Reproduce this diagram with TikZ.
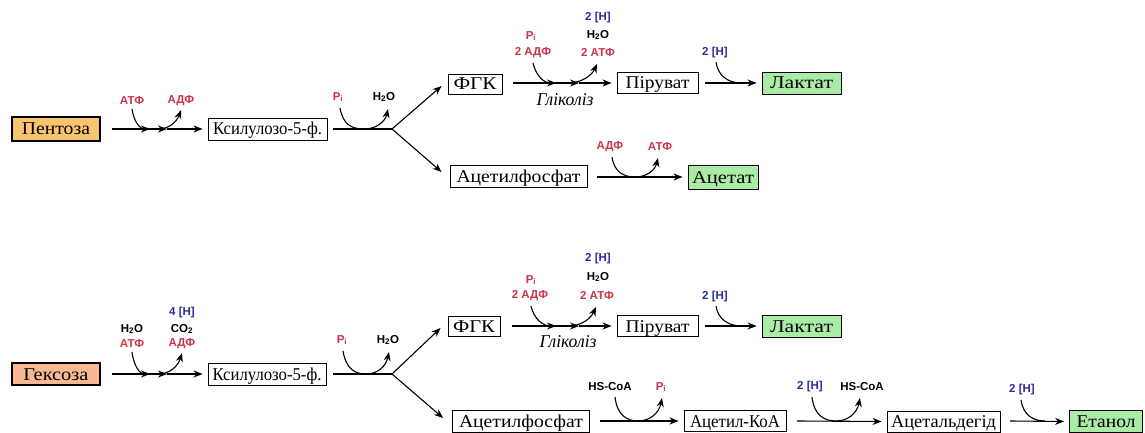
\documentclass[tikz,border=0pt]{standalone}
\usepackage{graphicx}
\usepackage{fontspec}
\setmainfont{Liberation Serif}
\newfontfamily\labfont{Liberation Sans}
\usetikzlibrary{arrows.meta,calc}
\newcommand{\fitbox}[2]{\resizebox{#1pt}{\height}{#2}}
\definecolor{rd}{HTML}{CC3349}
\definecolor{bl}{HTML}{2B2BA0}
\definecolor{orng}{HTML}{F9C46F}
\definecolor{salm}{HTML}{F7B994}
\definecolor{grn}{HTML}{AAEBA5}
\tikzset{
  box/.style={draw, line width=0.9pt, inner sep=0pt, text height=12.5pt, text depth=0.5pt,
    font=\fontsize{18}{18}\selectfont},
  startbox/.style={box, line width=1.4pt},
  endbox/.style={box, fill=grn},
  ln/.style={line width=1.1pt},
  arr/.style={line width=1.1pt, -{Stealth[length=9pt,width=7pt]}},
  toBox/.style={arr, shorten >=5pt},
  lab/.style={inner sep=0pt, font=\labfont\fontsize{11.5}{11.5}\selectfont\bfseries},
  lr/.style={lab, text=rd},
  lk/.style={lab, text=black},
  lb/.style={lab, text=bl},
  gly/.style={inner sep=0pt, font=\fontsize{18}{18}\selectfont\itshape}
}
\begin{document}
\begin{tikzpicture}[x=1pt,y=-1pt]
\useasboundingbox (0,0) rectangle (1145,433);

% ================= TOP =================
\node[startbox, fill=orng, minimum width=88pt, minimum height=24pt] (pent) at (56,129) {\fitbox{68}{Пентоза}};
\node[box, minimum width=119pt, minimum height=22pt] (xyl1) at (267.5,129) {\fitbox{109}{Ксилулозо-5-ф.}};
\node[box, minimum width=54pt, minimum height=20pt] (fgk1) at (475,84) {\fitbox{43}{ФГК}};
\node[box, minimum width=81pt, minimum height=21pt] (pir1) at (657.5,83) {\fitbox{64}{Піруват}};
\node[endbox, minimum width=79pt, minimum height=22pt] (lak1) at (801.5,83) {\fitbox{63}{Лактат}};
\node[box, minimum width=137pt, minimum height=22pt] (acp1) at (518.5,176) {\fitbox{124}{Ацетилфосфат}};
\node[endbox, minimum width=70pt, minimum height=24pt] (ace1) at (723,177) {\fitbox{62}{Ацетат}};

% pentose -> xylulose
\node[lr] (t1atf) at (132,101) {АТФ};
\node[lr] (t1adf) at (181,101) {АДФ};
\coordinate (t1s) at (112,129);
\coordinate (t1m) at (167,129);
\draw[arr] (t1s) -- (t1m);
\draw[toBox] (t1m) -- (xyl1.west);
\coordinate (t1in) at (132,109);
\coordinate (t1ine) at (150,129);
\draw[arr] (t1in) .. controls (134,122) and (140,129) .. (t1ine);
\coordinate (t1out) at (158,129);
\coordinate (t1oute) at (181,110);
\draw[arr] (t1out) .. controls (170,129) and (177,121) .. (t1oute);

% xylulose -> branch
\node[lr] (t2pi) at (338,97) {P\textsubscript{i}};
\node[lk] (t2h2o) at (384,97) {H\textsubscript{2}O};
\coordinate (t2s) at (333,129);
\coordinate (b1) at (392,129);
\draw[ln] (t2s) -- (b1);
\coordinate (t2u1) at (340,108);
\coordinate (t2u2) at (364,129);
\coordinate (t2u3) at (388,109);
\draw[ln] (t2u1) .. controls (343,125) and (352,129) .. (t2u2);
\draw[arr] (t2u2) .. controls (376,129) and (385,122) .. (t2u3);
\draw[arr] (b1) -- ($(fgk1.west)+(-6,2)$);
\draw[arr] (b1) -- ($(acp1.west)+(-8,-4)$);

% glycolysis top
\node[lr] (t3pi) at (531,36) {P\textsubscript{i}};
\node[lr] (t3adf) at (533,53) {2 АДФ};
\node[lb] (t3h) at (598,18) {2 [H]};
\node[lk] (t3h2o) at (598,35) {H\textsubscript{2}O};
\node[lr] (t3atf) at (598,53) {2 АТФ};
\node[gly] (t3gl) at (565,100) {\fitbox{57}{Гліколіз}};
\coordinate (t3s) at (513,83);
\coordinate (t3m) at (579,83);
\draw[arr] (t3s) -- (t3m);
\draw[toBox] (t3m) -- (pir1.west);
\coordinate (t3in) at (533,63);
\coordinate (t3ine) at (556,83);
\draw[arr] (t3in) .. controls (536,76) and (544,83) .. (t3ine);
\coordinate (t3out) at (568,83);
\coordinate (t3oute) at (597,64);
\draw[arr] (t3out) .. controls (582,83) and (592,75) .. (t3oute);

% pyruvate -> lactate
\node[lb] (t4h) at (715,53) {2 [H]};
\coordinate (t4s) at (705,83);
\draw[toBox] (t4s) -- (lak1.west);
\coordinate (t4in) at (716,62);
\coordinate (t4ine) at (742,83);
\draw[ln] (t4in) .. controls (718,76) and (728,83) .. (t4ine);

% acetylphosphate -> acetate
\node[lr] (t5adf) at (610,147) {АДФ};
\node[lr] (t5atf) at (660,147) {АТФ};
\coordinate (t5s) at (597,177);
\draw[toBox] (t5s) -- (ace1.west);
\coordinate (t5u1) at (612,157);
\coordinate (t5u2) at (635,177);
\coordinate (t5u3) at (658,158);
\draw[ln] (t5u1) .. controls (614,172) and (624,177) .. (t5u2);
\draw[arr] (t5u2) .. controls (647,177) and (655,170) .. (t5u3);

% ================= BOTTOM =================
\node[startbox, fill=salm, minimum width=88pt, minimum height=22pt] (gek) at (56,374) {\fitbox{65}{Гексоза}};
\node[box, minimum width=118pt, minimum height=22pt] (xyl2) at (267,374) {\fitbox{109}{Ксилулозо-5-ф.}};
\node[box, minimum width=52pt, minimum height=20pt] (fgk2) at (474,326) {\fitbox{42}{ФГК}};
\node[box, minimum width=81pt, minimum height=21pt] (pir2) at (657.5,326) {\fitbox{64}{Піруват}};
\node[endbox, minimum width=79pt, minimum height=22pt] (lak2) at (801.5,326) {\fitbox{63}{Лактат}};
\node[box, minimum width=137pt, minimum height=22pt] (acp2) at (521,421) {\fitbox{124}{Ацетилфосфат}};
\node[box, minimum width=102pt, minimum height=21pt] (acoa) at (735,421) {\fitbox{90}{Ацетил-КоА}};
\node[box, minimum width=113pt, minimum height=21pt] (ald) at (943.5,421.5) {\fitbox{105}{Ацетальдегід}};
\node[endbox, minimum width=73pt, minimum height=22pt] (eth) at (1106,421.5) {\fitbox{59}{Етанол}};

% hexose -> xylulose
\node[lk] (b1h2o) at (132,329) {H\textsubscript{2}O};
\node[lr] (b1atf) at (132,344) {АТФ};
\node[lb] (b1h) at (182,313) {4 [H]};
\node[lk] (b1co2) at (182,329) {CO\textsubscript{2}};
\node[lr] (b1adf) at (182,344) {АДФ};
\coordinate (b1s) at (112,374);
\coordinate (b1m) at (167,374);
\draw[arr] (b1s) -- (b1m);
\draw[toBox] (b1m) -- (xyl2.west);
\coordinate (b1in) at (132,352);
\coordinate (b1ine) at (150,374);
\draw[arr] (b1in) .. controls (134,367) and (140,374) .. (b1ine);
\coordinate (b1out) at (158,374);
\coordinate (b1oute) at (182,353);
\draw[arr] (b1out) .. controls (170,374) and (178,366) .. (b1oute);

% xylulose -> branch
\node[lr] (b2pi) at (342,340) {P\textsubscript{i}};
\node[lk] (b2h2o) at (388,340) {H\textsubscript{2}O};
\coordinate (b2s) at (333,374);
\coordinate (b2) at (392,374);
\draw[ln] (b2s) -- (b2);
\coordinate (b2u1) at (343,351);
\coordinate (b2u2) at (366,374);
\coordinate (b2u3) at (389,352);
\draw[ln] (b2u1) .. controls (346,369) and (355,374) .. (b2u2);
\draw[arr] (b2u2) .. controls (378,374) and (386,366) .. (b2u3);
\draw[arr] (b2) -- ($(fgk2.west)+(-7,2)$);
\draw[arr] (b2) -- ($(acp2.west)+(-9,-3)$);

% glycolysis bottom
\node[lr] (b3pi) at (531,280) {P\textsubscript{i}};
\node[lr] (b3adf) at (530,296) {2 АДФ};
\node[lb] (b3h) at (598,259) {2 [H]};
\node[lk] (b3h2o) at (598,277) {H\textsubscript{2}O};
\node[lr] (b3atf) at (597,296) {2 АТФ};
\node[gly] (b3gl) at (568,342) {\fitbox{57}{Гліколіз}};
\coordinate (b3s) at (512,326);
\coordinate (b3m) at (579,326);
\draw[arr] (b3s) -- (b3m);
\draw[toBox] (b3m) -- (pir2.west);
\coordinate (b3in) at (531,306);
\coordinate (b3ine) at (556,326);
\draw[arr] (b3in) .. controls (534,319) and (543,326) .. (b3ine);
\coordinate (b3out) at (568,326);
\coordinate (b3oute) at (596,307);
\draw[arr] (b3out) .. controls (582,326) and (591,318) .. (b3oute);

% pyruvate -> lactate
\node[lb] (b4h) at (715,297) {2 [H]};
\coordinate (b4s) at (705,326);
\draw[toBox] (b4s) -- (lak2.west);
\coordinate (b4in) at (716,306);
\coordinate (b4ine) at (742,326);
\draw[ln] (b4in) .. controls (718,319) and (728,326) .. (b4ine);

% acetylphosphate -> acetyl-CoA
\node[lk] (b5hs) at (610,387) {HS-CoA};
\node[lr] (b5pi) at (661,387) {P\textsubscript{i}};
\coordinate (b5s) at (600,421);
\draw[toBox] (b5s) -- (acoa.west);
\coordinate (b5u1) at (615,397);
\coordinate (b5u2) at (638,421);
\coordinate (b5u3) at (662,398);
\draw[ln] (b5u1) .. controls (617,415) and (627,421) .. (b5u2);
\draw[arr] (b5u2) .. controls (650,421) and (659,413) .. (b5u3);

% acetyl-CoA -> acetaldehyde
\node[lb] (b6h) at (810,387) {2 [H]};
\node[lk] (b6hs) at (862,387) {HS-CoA};
\coordinate (b6s) at (797,421);
\draw[toBox] (b6s) -- (ald.west);
\coordinate (b6u1) at (812,397);
\coordinate (b6u2) at (836,421);
\coordinate (b6u3) at (860,398);
\draw[ln] (b6u1) .. controls (814,415) and (824,421) .. (b6u2);
\draw[arr] (b6u2) .. controls (848,421) and (857,413) .. (b6u3);

% acetaldehyde -> ethanol
\node[lb] (b7h) at (1022,390) {2 [H]};
\coordinate (b7s) at (1010,421);
\draw[toBox] (b7s) -- (eth.west);
\coordinate (b7in) at (1021,400);
\coordinate (b7ine) at (1045,421);
\draw[ln] (b7in) .. controls (1023,414) and (1032,421) .. (b7ine);
\end{tikzpicture}
\end{document}
